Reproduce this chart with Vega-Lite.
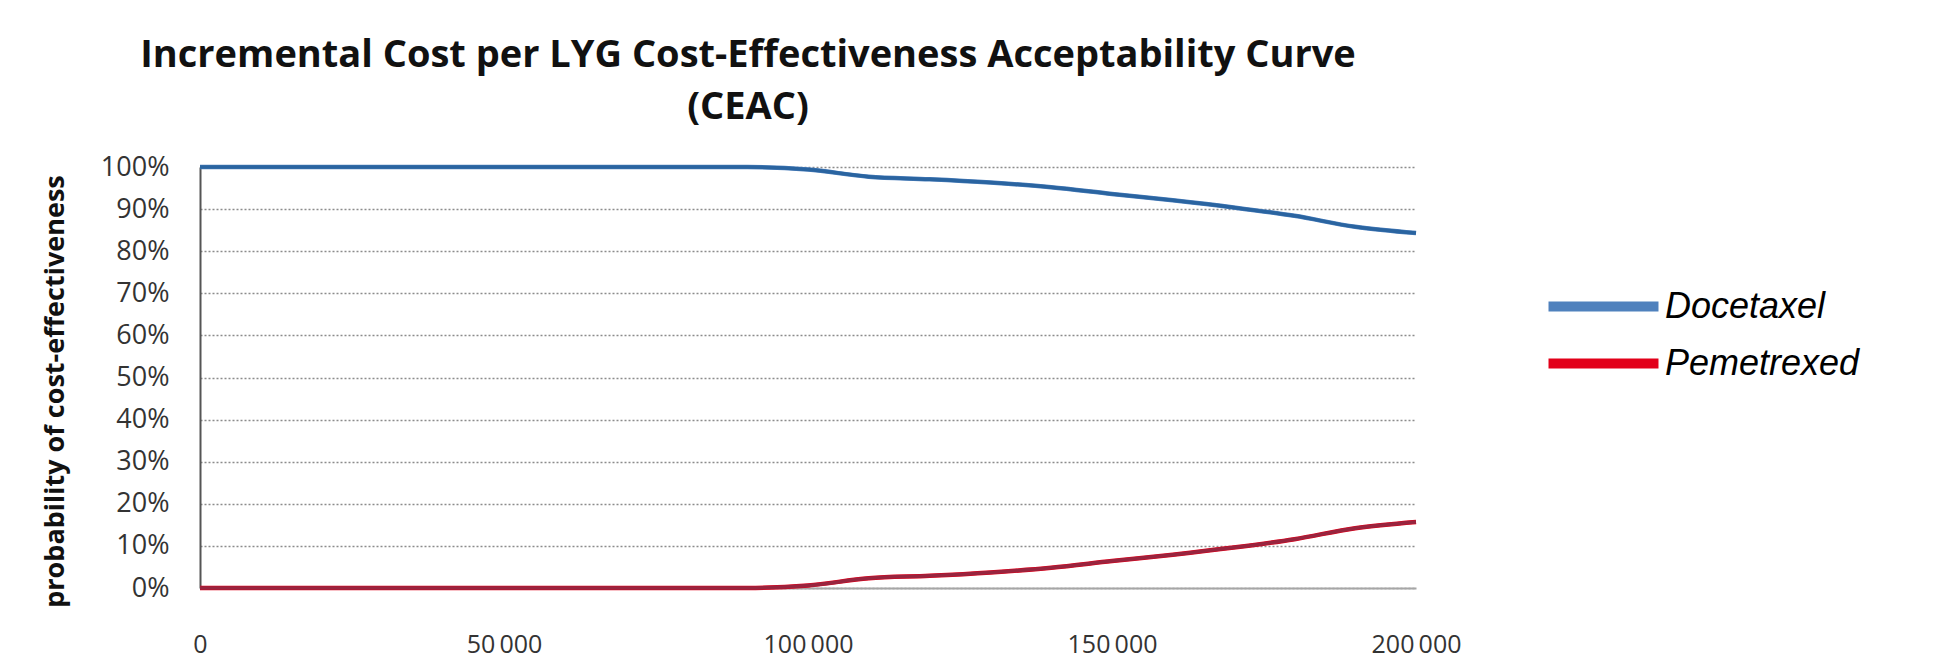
{
  "$schema": "https://vega.github.io/schema/vega-lite/v6.json",
  "width": 1216,
  "height": 421,
  "autosize": "none",
  "padding": {"left": 200, "top": 167, "right": 540, "bottom": 83},
  "background": "white",
  "title": {
    "text": ["Incremental Cost per LYG Cost-Effectiveness Acceptability Curve", "(CEAC)"],
    "anchor": "middle",
    "frame": "group",
    "dx": -60,
    "offset": 26,
    "font": "Open Sans",
    "fontSize": 38,
    "fontWeight": "bold",
    "color": "#111111",
    "lineHeight": 52
  },
  "config": {
    "locale": {"number": {"decimal": ",", "thousands": "\u2009", "grouping": [3], "currency": ["", ""]}},
    "view": {"stroke": null},
    "axis": {"labelFont": "Open Sans", "labelColor": "#333333", "ticks": false}
  },
  "data": {
    "values": [
      {"wtp": 0, "treatment": "Docetaxel", "prob": 1.0},
      {"wtp": 10000, "treatment": "Docetaxel", "prob": 1.0},
      {"wtp": 20000, "treatment": "Docetaxel", "prob": 1.0},
      {"wtp": 30000, "treatment": "Docetaxel", "prob": 1.0},
      {"wtp": 40000, "treatment": "Docetaxel", "prob": 1.0},
      {"wtp": 50000, "treatment": "Docetaxel", "prob": 1.0},
      {"wtp": 60000, "treatment": "Docetaxel", "prob": 1.0},
      {"wtp": 70000, "treatment": "Docetaxel", "prob": 1.0},
      {"wtp": 80000, "treatment": "Docetaxel", "prob": 1.0},
      {"wtp": 90000, "treatment": "Docetaxel", "prob": 1.0},
      {"wtp": 100000, "treatment": "Docetaxel", "prob": 0.994},
      {"wtp": 110000, "treatment": "Docetaxel", "prob": 0.977},
      {"wtp": 120000, "treatment": "Docetaxel", "prob": 0.971},
      {"wtp": 130000, "treatment": "Docetaxel", "prob": 0.963},
      {"wtp": 140000, "treatment": "Docetaxel", "prob": 0.952},
      {"wtp": 150000, "treatment": "Docetaxel", "prob": 0.936},
      {"wtp": 160000, "treatment": "Docetaxel", "prob": 0.921},
      {"wtp": 170000, "treatment": "Docetaxel", "prob": 0.904},
      {"wtp": 180000, "treatment": "Docetaxel", "prob": 0.884},
      {"wtp": 190000, "treatment": "Docetaxel", "prob": 0.858},
      {"wtp": 200000, "treatment": "Docetaxel", "prob": 0.843},
      {"wtp": 0, "treatment": "Pemetrexed", "prob": 0.0},
      {"wtp": 10000, "treatment": "Pemetrexed", "prob": 0.0},
      {"wtp": 20000, "treatment": "Pemetrexed", "prob": 0.0},
      {"wtp": 30000, "treatment": "Pemetrexed", "prob": 0.0},
      {"wtp": 40000, "treatment": "Pemetrexed", "prob": 0.0},
      {"wtp": 50000, "treatment": "Pemetrexed", "prob": 0.0},
      {"wtp": 60000, "treatment": "Pemetrexed", "prob": 0.0},
      {"wtp": 70000, "treatment": "Pemetrexed", "prob": 0.0},
      {"wtp": 80000, "treatment": "Pemetrexed", "prob": 0.0},
      {"wtp": 90000, "treatment": "Pemetrexed", "prob": 0.0},
      {"wtp": 100000, "treatment": "Pemetrexed", "prob": 0.006},
      {"wtp": 110000, "treatment": "Pemetrexed", "prob": 0.023},
      {"wtp": 120000, "treatment": "Pemetrexed", "prob": 0.029},
      {"wtp": 130000, "treatment": "Pemetrexed", "prob": 0.037},
      {"wtp": 140000, "treatment": "Pemetrexed", "prob": 0.048},
      {"wtp": 150000, "treatment": "Pemetrexed", "prob": 0.064},
      {"wtp": 160000, "treatment": "Pemetrexed", "prob": 0.079},
      {"wtp": 170000, "treatment": "Pemetrexed", "prob": 0.096},
      {"wtp": 180000, "treatment": "Pemetrexed", "prob": 0.116},
      {"wtp": 190000, "treatment": "Pemetrexed", "prob": 0.142},
      {"wtp": 200000, "treatment": "Pemetrexed", "prob": 0.157}
    ]
  },
  "encoding": {
    "x": {
      "field": "wtp",
      "type": "quantitative",
      "scale": {"domain": [0, 200000], "nice": false, "zero": true},
      "axis": {
        "title": null,
        "values": [0, 50000, 100000, 150000, 200000],
        "format": ",d",
        "grid": false,
        "domainColor": "#a6a6a6",
        "domainWidth": 2,
        "labelFontSize": 25,
        "labelPadding": 44,
        "labelFlush": false
      }
    },
    "y": {
      "field": "prob",
      "type": "quantitative",
      "scale": {"domain": [0, 1], "nice": false},
      "axis": {
        "title": "probability of cost-effectiveness",
        "titleFont": "Open Sans",
        "titleFontSize": 27,
        "titleFontWeight": "bold",
        "titleColor": "#111111",
        "titleX": -145,
        "titleY": 224,
        "titleAngle": 270,
        "titleAlign": "center",
        "titleBaseline": "middle",
        "values": [0, 0.1, 0.2, 0.3, 0.4, 0.5, 0.6, 0.7, 0.8, 0.9, 1.0],
        "format": ".0%",
        "labelFontSize": 27,
        "labelPadding": 31,
        "domainColor": "#555555",
        "domainWidth": 2,
        "grid": true,
        "gridColor": "#8c8c8c",
        "gridDash": [2, 2],
        "gridWidth": 1.5
      }
    }
  },
  "layer": [
    {
      "mark": {"type": "line", "strokeWidth": 4.5, "interpolate": "monotone"},
      "encoding": {
        "color": {
          "field": "treatment",
          "type": "nominal",
          "scale": {"domain": ["Docetaxel", "Pemetrexed"], "range": ["#4f81bd", "#e2001a"]},
          "legend": {
            "title": null,
            "orient": "none",
            "legendX": 1380,
            "legendY": 116,
            "symbolType": "M-3,0H3",
            "symbolSize": 1344,
            "symbolStrokeWidth": 10,
            "symbolFillColor": "transparent",
            "labelFont": "Liberation Sans",
            "labelFontSize": 36,
            "labelFontStyle": "italic",
            "labelColor": "#000000",
            "labelOffset": 38,
            "labelLimit": 0,
            "rowPadding": 13
          }
        }
      }
    },
    {
      "mark": {"type": "line", "strokeWidth": 3.5, "interpolate": "monotone"},
      "encoding": {
        "stroke": {
          "field": "treatment",
          "type": "nominal",
          "scale": {"domain": ["Docetaxel", "Pemetrexed"], "range": ["#2a64a0", "#98253f"]},
          "legend": null
        }
      }
    }
  ]
}
